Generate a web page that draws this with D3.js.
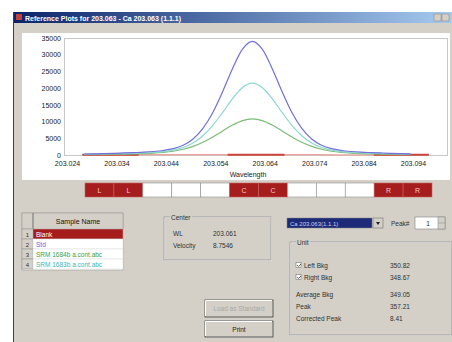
<!DOCTYPE html>
<html><head><meta charset="utf-8">
<script src="https://cdn.jsdelivr.net/npm/d3@7"></script>
<style>html,body{margin:0;padding:0;background:#fff;overflow:hidden}svg{display:block}text{font-family:"Liberation Sans",Arial,sans-serif}</style>
</head><body>
<svg id="c" width="452" height="342"></svg>
<script>
// ---------- data ----------
const wavelengths = [203.0275,203.0295,203.0315,203.0335,203.0355,203.0375,203.0395,203.0415,203.0435,203.0455,203.0475,203.0495,203.0515,203.0535,203.0555,203.0575,203.0595,203.0615,203.0635,203.0655,203.0675,203.0695,203.0715,203.0735,203.0755,203.0775,203.0795,203.0815,203.0835,203.0855,203.0875,203.0895,203.0915,203.0935];
const stdValues = [300,360,430,510,610,720,840,1040,1350,1890,2910,4790,7960,12720,19010,25910,31650,34000,31650,25910,19010,12720,7960,4790,2910,1890,1350,1040,840,720,610,510,420,350];
const sample2Values = [260,295,335,380,435,505,610,755,1000,1440,2240,3590,5780,8880,12770,16860,20190,21500,20190,16860,12770,8880,5780,3590,2240,1440,1000,755,610,505,435,380,335,295];
const sample1Values = [170,190,215,245,280,340,420,545,760,1120,1710,2580,3820,5400,7190,8950,10290,10800,10290,8950,7190,5400,3820,2580,1710,1120,760,545,420,340,280,245,215,190];
const blankWavelengths = [203.0271,203.0350,203.0430,203.0510,203.0590,203.0670,203.0750,203.0830,203.0910,203.0972];
const blankValues = [40,35,45,40,50,45,40,35,40,45];
const regionStart = [203.0271,203.0565,203.0861];
const regionEnd = [203.0385,203.0680,203.0972];
const xTicks = [203.024,203.034,203.044,203.054,203.064,203.074,203.084,203.094];
const yTicks = [0,5000,10000,15000,20000,25000,30000,35000];
const regionBoxes = ["L","L","","","","C","C","","","","R","R"];
const sampleNames = ["Blank","Std","SRM 1684b a.cont.abc","SRM 1683b a.cont.abc"];
const unitLabels = ["Left Bkg","Right Bkg","Average Bkg","Peak","Corrected Peak"];
const unitValues = ["350.82","348.67","349.05","357.21","8.41"];

// ---------- drawing ----------
const svg = d3.select("#c");
const gray = "#d4d0c8";
const F = "Liberation Sans, Arial, sans-serif";

// window
svg.append("rect").attr("x",13).attr("y",12).attr("width",439).attr("height",330).attr("fill",gray);
svg.append("line").attr("x1",13.5).attr("x2",13.5).attr("y1",12).attr("y2",342).attr("stroke","#404040");
const defs = svg.append("defs");
const grad = defs.append("linearGradient").attr("id","tb");
grad.append("stop").attr("offset","0").attr("stop-color","#0a246a");
grad.append("stop").attr("offset","1").attr("stop-color","#a6caf0");
svg.append("rect").attr("x",14).attr("y",12).attr("width",438).attr("height",11).attr("fill","url(#tb)");
svg.append("rect").attr("x",16).attr("y",14).attr("width",6).attr("height",6).attr("fill","#c04040");
svg.append("text").attr("x",25).attr("y",20.5).attr("fill","#fff").attr("font-size",7).attr("font-weight","bold")
  .text("Reference Plots for 203.063 - Ca 203.063 (1.1.1)");
[434,442].forEach(x=>svg.append("rect").attr("x",x).attr("y",14).attr("width",7).attr("height",7).attr("fill",gray).attr("stroke","#808080").attr("stroke-width",0.5));

// chart panel
svg.append("rect").attr("x",22).attr("y",33).attr("width",428).attr("height",147).attr("fill","#fff");
const x = d3.scaleLinear().domain([203.02339,203.10088]).range([64,447]);
const y = d3.scaleLinear().domain([0,35000]).range([155,38]);
svg.append("rect").attr("x",64.5).attr("y",38.5).attr("width",383).attr("height",117).attr("fill","none").attr("stroke","#c8c8c8");

const xAxis = d3.axisBottom(x).tickValues(xTicks).tickFormat(d3.format(".3f")).tickSize(0).tickPadding(5);
const gx = svg.append("g").attr("transform","translate(0,156)").call(xAxis);
gx.select(".domain").remove();
gx.selectAll("text").attr("font-size",7).attr("fill","#202020").attr("font-family",F);
const yAxis = d3.axisLeft(y).tickValues(yTicks).tickFormat(d3.format("d")).tickSize(0).tickPadding(3);
const gy = svg.append("g").attr("transform","translate(64,0)").call(yAxis);
gy.select(".domain").remove();
gy.selectAll("text").attr("font-size",7).attr("fill","#202020").attr("font-family",F);
svg.append("text").attr("x",248).attr("y",177).attr("text-anchor","middle").attr("font-size",7).attr("fill","#202020").text("Wavelength");

const line = d3.line().x(d=>x(d[0])).y(d=>y(d[1])).curve(d3.curveMonotoneX);
// blank baseline
svg.append("path").datum(blankWavelengths.map((w,i)=>[w,blankValues[i]]))
  .attr("d",line).attr("fill","none").attr("stroke","#e8a8a0").attr("stroke-width",1.5);
// regions
svg.selectAll(".reg").data(regionStart).enter().append("line")
  .attr("x1",d=>x(d)).attr("x2",(d,i)=>x(regionEnd[i]))
  .attr("y1",y(40)).attr("y2",y(40)).attr("stroke","#c8463c").attr("stroke-width",2);
const series = [
  {v:sample1Values,c:"#7cbb78"},
  {v:sample2Values,c:"#8ed6d2"},
  {v:stdValues,c:"#7070d8"}
];
series.forEach(s=>{
  svg.append("path").datum(wavelengths.map((w,i)=>[w,s.v[i]]))
    .attr("d",line).attr("fill","none").attr("stroke",s.c).attr("stroke-width",1.2);
});

// region boxes
const bx = d3.scaleBand().domain(d3.range(regionBoxes.length)).range([85,432]);
const boxes = svg.append("g");
boxes.selectAll("rect").data(regionBoxes).enter().append("rect")
  .attr("x",(d,i)=>bx(i)).attr("y",183).attr("width",bx.bandwidth()).attr("height",14)
  .attr("fill",d=>d?"#a51d1d":"#fff").attr("stroke",d=>d?"#c86060":"#909090").attr("stroke-width",0.6);
boxes.selectAll("text").data(regionBoxes).enter().append("text")
  .attr("x",(d,i)=>bx(i)+bx.bandwidth()/2).attr("y",193).attr("text-anchor","middle")
  .attr("font-size",7).attr("fill","#f0c8c8").text(d=>d);

// sample table
svg.append("rect").attr("x",22).attr("y",213).attr("width",101).attr("height",57).attr("fill","#fff").attr("stroke","#909090").attr("stroke-width",0.5);
svg.append("rect").attr("x",22).attr("y",213).attr("width",101).attr("height",16).attr("fill",gray).attr("stroke","#909090").attr("stroke-width",0.5);
svg.append("line").attr("x1",33).attr("x2",33).attr("y1",213).attr("y2",229).attr("stroke","#707070");
svg.append("text").attr("x",78).attr("y",223.5).attr("text-anchor","middle").attr("font-size",7).attr("fill","#101010").text("Sample Name");
const rowColors = ["#fff","#6464e0","#40a040","#40b4b4"];
sampleNames.forEach((n,i)=>{
  const ry = 229 + i*10;
  svg.append("rect").attr("x",22).attr("y",ry).attr("width",11).attr("height",10).attr("fill",gray).attr("stroke","#909090").attr("stroke-width",0.5);
  svg.append("text").attr("x",27.5).attr("y",ry+8).attr("text-anchor","middle").attr("font-size",6).attr("fill","#303030").text(i+1);
  svg.append("rect").attr("x",33).attr("y",ry).attr("width",90).attr("height",10).attr("fill",i===0?"#a51d1d":"#fff").attr("stroke","#d0d0d0").attr("stroke-width",0.4);
  svg.append("text").attr("x",36).attr("y",ry+7.8).attr("font-size",6.5).attr("fill",rowColors[i]).text(n);
});

// etched group helper
function group(x0,y0,w,h,label){
  svg.append("rect").attr("x",x0+0.5).attr("y",y0+0.5).attr("width",w).attr("height",h).attr("fill","none").attr("stroke","#fff");
  svg.append("rect").attr("x",x0).attr("y",y0).attr("width",w).attr("height",h).attr("fill","none").attr("stroke","#a0a0a0");
  const bg = svg.append("rect").attr("fill",gray);
  const t = svg.append("text").attr("x",x0+7).attr("y",y0+3).attr("font-size",6.5).attr("fill","#303030").text(label);
  const bb = t.node().getBBox();
  bg.attr("x",bb.x-1).attr("y",y0-2).attr("width",bb.width+2).attr("height",4);
}
group(164,217,107,43,"Center");
svg.append("text").attr("x",173).attr("y",236).attr("font-size",6.5).attr("fill","#303030").text("WL");
svg.append("text").attr("x",213).attr("y",236).attr("font-size",6.5).attr("fill","#303030").text("203.061");
svg.append("text").attr("x",173).attr("y",248).attr("font-size",6.5).attr("fill","#303030").text("Velocity");
svg.append("text").attr("x",213).attr("y",248).attr("font-size",6.5).attr("fill","#303030").text("8.7546");

// buttons
function button(x0,y0,w,h,label,disabled){
  svg.append("rect").attr("x",x0).attr("y",y0).attr("width",w).attr("height",h).attr("fill",gray).attr("stroke","#404040").attr("stroke-width",0.8);
  svg.append("path").attr("d",`M${x0+0.5},${y0+h-1}V${y0+0.5}H${x0+w-1}`).attr("fill","none").attr("stroke","#fff");
  svg.append("text").attr("x",x0+w/2).attr("y",y0+h/2+2.5).attr("text-anchor","middle").attr("font-size",6.5)
    .attr("fill",disabled?"#a8a8a8":"#202020").text(label);
}
button(205,300,68,17,"Load as Standard",true);
button(205,321,68,16,"Print",false);

// dropdown
svg.append("rect").attr("x",287).attr("y",218).attr("width",85).attr("height",10).attr("fill","#1c2a78").attr("stroke","#808080").attr("stroke-width",0.5);
svg.append("text").attr("x",290).attr("y",225.5).attr("font-size",6).attr("fill","#c8d0f0").text("Ca 203.063(1.1.1)");
svg.append("rect").attr("x",373).attr("y",218).attr("width",10).attr("height",10).attr("fill",gray).attr("stroke","#606060").attr("stroke-width",0.5);
svg.append("path").attr("d","M376,222L378,225L380,222Z").attr("fill","#202020");
svg.append("text").attr("x",391).attr("y",226).attr("font-size",6.5).attr("fill","#303030").text("Peak#");
svg.append("rect").attr("x",415).attr("y",217).attr("width",30).attr("height",12).attr("fill","#fff").attr("stroke","#808080").attr("stroke-width",0.6);
svg.append("text").attr("x",428).attr("y",226).attr("text-anchor","middle").attr("font-size",6.5).attr("fill","#202020").text("1");
svg.append("rect").attr("x",438).attr("y",217).attr("width",7).attr("height",12).attr("fill",gray).attr("stroke","#808080").attr("stroke-width",0.5);
svg.append("line").attr("x1",438).attr("x2",445).attr("y1",223).attr("y2",223).attr("stroke","#808080").attr("stroke-width",0.5);

// unit group
group(290,242,162,93,"Unit");
const uy = [268,280,297,309,321];
unitLabels.forEach((l,i)=>{
  let tx = 296;
  if(i<2){
    svg.append("rect").attr("x",296).attr("y",uy[i]-5.5).attr("width",5).attr("height",5).attr("fill","#fff").attr("stroke","#606060").attr("stroke-width",0.5);
    svg.append("path").attr("d",`M297,${uy[i]-3}l1.5,1.5l2.5,-2.5`).attr("fill","none").attr("stroke","#202020").attr("stroke-width",0.7);
    tx = 304;
  }
  svg.append("text").attr("x",tx).attr("y",uy[i]).attr("font-size",6.5).attr("fill","#303030").text(l);
  svg.append("text").attr("x",390).attr("y",uy[i]).attr("font-size",6.5).attr("fill","#303030").text(unitValues[i]);
});
</script>
</body></html>
